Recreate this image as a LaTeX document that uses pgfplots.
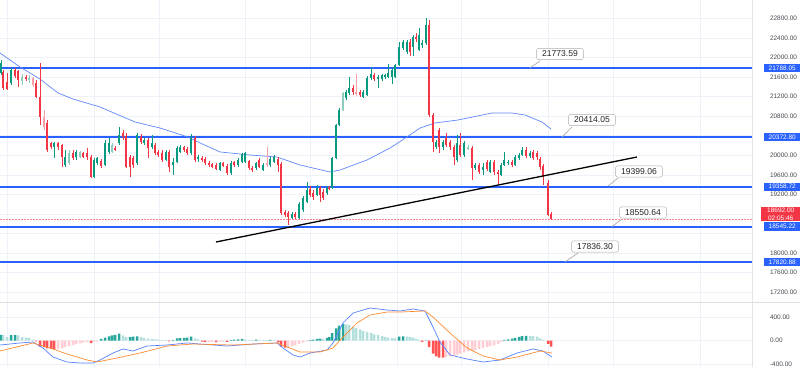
\documentclass[border=0pt]{standalone}
\usepackage{fontspec}
\setmainfont{Liberation Sans}
\usepackage{pgfplots}
\pgfplotsset{compat=1.18}
\usepackage{pgfplotstable}

\definecolor{tvblue}{RGB}{41,98,255}
\definecolor{upc}{RGB}{8,153,129}
\definecolor{dnc}{RGB}{242,54,69}
\definecolor{upl}{RGB}{140,205,192}
\definecolor{dnl}{RGB}{247,160,168}
\definecolor{mabl}{RGB}{95,135,250}
\definecolor{hup}{RGB}{38,166,154}
\definecolor{hupl}{RGB}{178,223,219}
\definecolor{hdn}{RGB}{255,82,82}
\definecolor{hdnl}{RGB}{255,205,210}
\definecolor{sigc}{RGB}{255,140,50}
\definecolor{gridc}{RGB}{238,241,247}
\definecolor{tickc}{RGB}{70,72,80}

% x = bar position, o h l c = open high low close, t = 0 up, 1 down, 2 light up, 3 light down
\pgfplotstableread{
x o h l c t
1 21685 21951 21644 21890 0
3 21706 21747 21337 21378 1
7 21501 21685 21337 21358 1
11 21481 21787 21440 21747 0
15 21747 21787 21583 21624 1
18 21726 21747 21399 21542 1
22 21522 21665 21440 21603 2
26 21603 21644 21522 21562 1
29 21542 21644 21481 21583 2
33 21583 21603 21399 21440 3
36 21481 21542 21174 21194 1
40 21194 21890 20622 20785 1
44 20785 20928 20520 20581 3
47 20663 20724 20070 20111 1
51 20254 20274 20131 20172 1
54 20172 20274 19947 20254 0
58 20254 20274 20111 20172 1
62 20213 20233 19763 19967 1
65 19804 20111 19763 19967 0
69 19845 20111 19804 20049 2
73 20049 20111 19906 19947 1
76 19967 20111 19906 20070 0
80 19967 20090 19947 20070 2
83 20049 20070 19947 19967 1
87 20049 20151 19906 19967 1
91 19967 20008 19538 19558 1
94 19558 19947 19538 19906 0
97 19845 19967 19804 19947 0
101 19886 19926 19742 19783 1
105 19804 20315 19783 20254 0
109 20070 20356 20029 20254 0
112 20070 20254 20049 20213 2
115 20151 20192 20090 20111 1
119 20254 20581 20213 20417 0
123 20458 20520 20315 20376 1
126 20397 20458 19742 19763 1
130 19967 20008 19558 19763 1
133 19947 19988 19742 19804 1
137 19845 20458 19804 20417 0
141 20376 20438 20233 20274 1
144 20254 20356 20213 20315 0
148 20315 20356 19947 20151 1
152 20172 20417 20131 20254 0
155 20213 20254 20008 20049 1
158 20070 20111 19967 20008 1
162 20049 20111 19865 19906 1
166 19906 20111 19886 20070 0
169 20070 20111 19661 19763 1
173 19804 19947 19599 19865 0
177 19865 20192 19845 20151 0
180 20070 20213 20049 20172 0
184 20172 20192 20070 20111 1
187 20131 20172 20008 20049 1
191 20049 20438 20008 20356 0
195 20356 20397 19865 19906 1
198 19926 20008 19865 19967 0
202 19947 19988 19865 19906 1
205 19926 19967 19804 19845 1
209 19845 19886 19763 19804 1
212 19824 19845 19742 19763 1
216 19804 19845 19701 19722 1
220 19701 19865 19681 19845 0
223 19845 19865 19763 19783 1
227 19783 19824 19599 19640 1
231 19640 19886 19599 19845 0
234 19865 19886 19763 19804 1
238 19804 19947 19763 19906 0
242 19865 20049 19845 20029 0
245 19865 20070 19845 20049 0
249 19886 19906 19701 19742 1
252 19742 19783 19661 19701 1
256 19742 19865 19701 19845 0
259 19906 19947 19742 19763 1
263 19701 19845 19681 19804 0
267 19845 20172 19763 19804 3
270 19804 19967 19763 19926 0
274 19865 20008 19845 19967 0
278 19926 19967 19661 19804 1
281 19824 19865 18781 18822 1
285 18843 18883 18740 18781 1
288 18822 18863 18577 18740 1
292 18720 18843 18699 18802 0
295 18802 18843 18699 18740 1
299 18720 19047 18699 19006 0
303 18883 19170 18843 19129 0
307 19047 19456 19027 19292 0
310 19313 19374 19149 19190 1
313 19231 19292 19088 19149 1
317 19190 19395 19170 19333 0
320 19333 19374 19047 19190 1
323 19252 19313 19088 19129 1
327 19231 19374 19190 19333 0
329 19354 19374 19292 19313 1
332 19333 19967 19313 19947 0
336 19947 20642 19926 20622 0
339 20622 20969 20601 20928 0
343 20928 21297 20908 21276 2
346 21174 21337 21133 21297 0
349 21276 21603 21235 21378 0
353 21378 21440 21235 21297 1
356 21297 21665 21215 21256 3
360 21297 21337 21194 21235 1
363 21194 21337 21174 21297 0
367 21235 21624 21215 21583 0
371 21583 21808 21542 21665 0
374 21644 21685 21522 21562 1
378 21562 21644 21378 21603 0
382 21562 21665 21522 21644 0
385 21603 21665 21562 21644 0
388 21603 21869 21583 21685 0
392 21603 21787 21460 21747 0
395 21603 21869 21583 21849 0
399 21849 22319 21828 22217 0
403 22196 22360 22155 22319 0
407 22115 22360 22074 22319 0
410 22319 22380 22033 22115 1
413 22217 22462 22033 22421 0
416 22421 22503 22319 22380 1
419 22155 22605 22135 22462 0
422 22258 22360 22196 22299 0
426 22299 22810 22258 22667 0
429 22667 22769 20785 20826 1
433 20826 20867 20070 20274 1
436 20172 20315 20131 20274 0
439 20520 20560 20049 20172 1
443 20172 20315 20111 20274 0
446 20356 20458 20172 20213 1
450 20274 20315 20111 20172 1
454 20172 20213 19804 19967 1
457 19906 20417 19865 20254 0
460 20213 20458 19967 20008 1
464 20008 20295 19967 20254 0
468 20151 20213 20111 20172 2
472 20151 20192 19497 19742 1
475 19742 19845 19701 19804 0
479 19804 19845 19620 19661 1
483 19701 19845 19599 19763 0
487 19865 19906 19681 19722 1
490 19661 19906 19640 19865 0
494 19865 19906 19599 19661 1
498 19661 19701 19395 19620 1
501 19599 19845 19579 19804 0
504 19804 20070 19783 19906 0
508 19845 19906 19804 19865 0
512 19865 19906 19763 19804 1
515 19804 20008 19783 19967 0
519 19947 20049 19906 20008 0
522 20008 20172 19988 20111 0
526 20111 20172 19947 19988 1
530 19988 20090 19947 20049 0
533 20070 20111 19906 19947 1
537 20049 20090 19906 19967 1
540 19926 19967 19701 19763 1
543 19783 19824 19395 19558 1
548 19436 19497 18761 18781 1
551 18802 18843 18679 18692 1
}\candles

% MACD histogram: x value type (0 rising +, 1 falling +, 2 falling -, 3 rising -)
\pgfplotstableread{
x v t
1 100 0
3 95 1
7 60 1
11 95 0
15 95 0
18 90 1
22 60 1
26 55 1
29 50 1
33 20 1
36 -10 2
40 -100 2
44 -110 2
47 -130 2
51 -140 2
54 -150 2
58 -145 3
62 -130 3
65 -110 3
69 -90 3
73 -75 3
76 -60 3
80 -45 3
83 -35 3
87 -25 3
91 -40 2
94 -15 3
97 -10 3
101 30 0
105 55 0
109 75 0
112 90 0
115 100 0
119 120 0
123 90 1
126 60 1
130 60 0
133 70 0
137 75 0
141 60 1
144 45 1
148 35 1
152 30 1
155 25 1
158 20 1
162 15 1
166 10 1
169 -10 2
173 10 0
177 40 0
180 45 0
184 50 0
187 55 0
191 70 0
195 40 1
198 25 1
202 -15 2
205 -25 2
209 -25 3
212 -20 3
216 -25 2
220 -15 3
223 -15 3
227 -20 2
231 10 0
234 20 0
238 25 0
242 30 0
245 20 1
249 10 1
252 15 1
256 20 0
259 15 1
263 10 1
267 10 1
270 15 0
274 15 1
278 -30 2
281 -100 2
285 -120 2
288 -110 3
292 -95 3
295 -75 3
299 -55 3
303 -35 3
307 -15 3
310 10 0
313 20 0
317 30 0
320 35 0
323 30 1
327 50 0
329 60 0
332 130 0
336 210 0
339 260 0
343 290 0
346 280 1
349 270 1
353 240 1
356 220 1
360 195 1
363 170 1
367 150 1
371 135 1
374 110 1
378 95 1
382 80 1
385 65 1
388 55 1
392 45 1
395 40 1
399 70 0
403 75 0
407 70 1
410 60 1
413 55 1
416 35 1
419 20 1
422 -20 2
426 5 0
429 -110 2
433 -220 2
436 -270 2
439 -290 2
443 -290 2
446 -280 3
450 -270 3
454 -260 3
457 -240 3
460 -220 3
464 -200 3
468 -185 3
472 -175 3
475 -160 3
479 -140 3
483 -125 3
487 -110 3
490 -95 3
494 -80 3
498 -60 3
501 -20 3
504 15 0
508 25 0
512 35 0
515 50 0
519 65 0
522 80 0
526 85 0
530 85 1
533 80 1
537 70 1
540 40 1
543 15 1
548 -55 2
551 -100 2
}\hist

\pgfplotsset{
  wick/.style 2 args={draw=none, mark=none, forget plot,
    restrict expr to domain={\thisrow{t}}{#1},
    /pgfplots/error bars/y dir=both, /pgfplots/error bars/y explicit,
    /pgfplots/error bars/error mark=none,
    /pgfplots/error bars/error bar style={draw=#2, line width=0.8bp}},
  cbody/.style 2 args={draw=none, mark=none, forget plot,
    restrict expr to domain={\thisrow{t}}{#1},
    /pgfplots/error bars/y dir=both, /pgfplots/error bars/y explicit,
    /pgfplots/error bars/error mark=none,
    /pgfplots/error bars/error bar style={draw=#2, line width=2.6bp}},
  hbar/.style 2 args={ybar, bar width=2.5bp, bar shift=0pt, fill=#2, draw=none, forget plot,
    restrict expr to domain={\thisrow{t}}{#1}},
  tvaxis/.style={scale only axis, width=752bp, xmin=0, xmax=752,
    axis line style={draw=none}, tick style={draw=none},
    xtick={7,94,159,245,310,397,461,548,613,700}, xticklabels={},
    xmajorgrids, ymajorgrids, grid style={gridc, line width=0.7bp},
    scaled y ticks=false, scaled x ticks=false,
    yticklabel pos=right,
    yticklabel style={anchor=west, xshift=14.5bp, text=tickc,
      font=\fontsize{6.5}{7.5}\selectfont,
      /pgf/number format/fixed, /pgf/number format/fixed zerofill,
      /pgf/number format/precision=2, /pgf/number format/1000 sep={},
      /pgf/number format/assume math mode=true},
    clip mode=individual}
}
\tikzset{
  rbox/.style={fill=tvblue, text=white, font=\fontsize{6.5}{7.5}\selectfont,
    anchor=west, inner sep=0pt, minimum width=36bp, minimum height=8.5bp},
  callout/.style={draw=gray!65, fill=white, rounded corners=2bp, inner xsep=5.5bp,
    inner ysep=2.6bp, font=\fontsize{8.6}{9.5}\selectfont, text=black!85},
  tail/.style={draw=gray!65, line width=0.7bp}
}

\begin{document}
\begin{tikzpicture}
\path[use as bounding box] (0,0) rectangle (800bp,367bp);

\begin{axis}[tvaxis, at={(0,65bp)}, anchor=south west, height=302bp,
  ymin=17002, ymax=23178,
  ytick={17200,17600,18000,19200,19600,20000,20800,21200,21600,22000,22400,22800},
  extra y ticks={18400,18800,20400}, extra y tick labels={},
  extra y tick style={grid=major}]

% horizontal levels
\addplot[tvblue, line width=2bp, forget plot] coordinates {(0,21788.05) (752,21788.05)};
\addplot[tvblue, line width=2bp, forget plot] coordinates {(0,20372.80) (752,20372.80)};
\addplot[tvblue, line width=2bp, forget plot] coordinates {(0,19358.72) (752,19358.72)};
\addplot[tvblue, line width=2bp, forget plot] coordinates {(0,18545.22) (752,18545.22)};
\addplot[tvblue, line width=2bp, forget plot] coordinates {(0,17820.88) (752,17820.88)};
% last price
\addplot[dnc!60, densely dotted, line width=0.5bp, forget plot] coordinates {(0,18692) (752,18692)};

% moving average
\addplot[mabl, line width=0.7bp, forget plot] coordinates {
(0,22094) (20,21808) (40,21562) (58,21276) (73,21153) (100,20990) (135,20683)
(160,20560) (188,20376) (200,20254) (220,20070) (250,20008) (277,19967)
(300,19804) (330,19661) (340,19701) (367,19906) (390,20151) (407,20376)
(420,20560) (435,20663) (458,20724) (492,20867) (512,20867) (525,20826)
(542,20683) (551,20540)};

% candles: wicks
\addplot[wick={-0.5:0.5}{upc}] table[x=x, y expr={(\thisrow{h}+\thisrow{l})/2}, y error expr={(\thisrow{h}-\thisrow{l})/2}] {\candles};
\addplot[wick={0.5:1.5}{dnc}] table[x=x, y expr={(\thisrow{h}+\thisrow{l})/2}, y error expr={(\thisrow{h}-\thisrow{l})/2}] {\candles};
\addplot[wick={1.5:2.5}{upl}] table[x=x, y expr={(\thisrow{h}+\thisrow{l})/2}, y error expr={(\thisrow{h}-\thisrow{l})/2}] {\candles};
\addplot[wick={2.5:3.5}{dnl}] table[x=x, y expr={(\thisrow{h}+\thisrow{l})/2}, y error expr={(\thisrow{h}-\thisrow{l})/2}] {\candles};
% candles: bodies
\addplot[cbody={-0.5:0.5}{upc}] table[x=x, y expr={(\thisrow{o}+\thisrow{c})/2}, y error expr={abs(\thisrow{o}-\thisrow{c})/2}] {\candles};
\addplot[cbody={0.5:1.5}{dnc}] table[x=x, y expr={(\thisrow{o}+\thisrow{c})/2}, y error expr={abs(\thisrow{o}-\thisrow{c})/2}] {\candles};
\addplot[cbody={1.5:2.5}{upl}] table[x=x, y expr={(\thisrow{o}+\thisrow{c})/2}, y error expr={abs(\thisrow{o}-\thisrow{c})/2}] {\candles};
\addplot[cbody={2.5:3.5}{dnl}] table[x=x, y expr={(\thisrow{o}+\thisrow{c})/2}, y error expr={abs(\thisrow{o}-\thisrow{c})/2}] {\candles};

% trend line
\addplot[black, line width=1.3bp, forget plot] coordinates {(216,18229) (637,19967)};

% callouts
\draw[tail] (axis cs:540,21931) -- (axis cs:530,21788);
\node[callout] at (axis cs:560,22074) {21773.59};
\draw[tail] (axis cs:572,20581) -- (axis cs:562,20376);
\node[callout] at (axis cs:592,20724) {20414.05};
\draw[tail] (axis cs:618,19538) -- (axis cs:608,19374);
\node[callout] at (axis cs:639,19671) {19399.06};
\draw[tail] (axis cs:622,18699) -- (axis cs:612,18545);
\node[callout] at (axis cs:643,18832) {18550.64};
\draw[tail] (axis cs:578,18004) -- (axis cs:565,17821);
\node[callout] at (axis cs:595,18137) {17836.30};

% price scale boxes
\node[rbox] at (axis cs:764,21788.05) {21788.05};
\node[rbox] at (axis cs:764,20372.80) {20372.80};
\node[rbox] at (axis cs:764,19358.72) {19358.72};
\node[rbox] at (axis cs:764,17820.88) {17820.88};
\node[fill=dnc, text=white, font=\fontsize{6.5}{8}\selectfont, align=center,
  anchor=west, inner sep=1bp, minimum width=39bp] at (axis cs:761,18802) {18692.00\\02:05:46};
\node[rbox] at (axis cs:764,18545.22) {18545.22};
\end{axis}

\begin{axis}[tvaxis, at={(0,0)}, anchor=south west, height=65bp,
  ymin=-451, ymax=664, ytick={-400,0,400}]
\addplot[hbar={-0.5:0.5}{hup}] table[x=x, y=v] {\hist};
\addplot[hbar={0.5:1.5}{hupl}] table[x=x, y=v] {\hist};
\addplot[hbar={1.5:2.5}{hdn}] table[x=x, y=v] {\hist};
\addplot[hbar={2.5:3.5}{hdnl}] table[x=x, y=v] {\hist};
% MACD line
\addplot[tvblue!80, line width=0.7bp, forget plot] coordinates {
(0,-74) (20,-39) (33,-22) (43,-125) (53,-280) (67,-365) (80,-382) (93,-382)
(100,-331) (113,-211) (123,-142) (133,-177) (147,-91) (167,-74) (187,-39)
(200,-57) (227,-91) (253,-57) (277,-39) (283,-125) (293,-245) (300,-280)
(310,-211) (327,-160) (333,-39) (343,304) (353,475) (370,561) (387,527)
(400,510) (413,544) (425,510) (433,235) (440,-22) (450,-245) (467,-314)
(483,-365) (500,-331) (517,-211) (533,-142) (543,-177) (552,-280)};
% signal line
\addplot[sigc, line width=0.7bp, forget plot] coordinates {
(0,-177) (33,-39) (50,-125) (67,-228) (87,-331) (97,-365) (117,-297)
(140,-211) (167,-91) (193,-57) (233,-74) (277,-39) (290,-125) (300,-194)
(320,-194) (333,-125) (343,63) (357,304) (370,441) (387,492) (400,492)
(425,510) (433,406) (450,132) (467,-125) (483,-262) (500,-331) (517,-280)
(540,-177) (552,-211)};
\end{axis}

\draw[gray!25, line width=0.8bp] (0,65bp) -- (800bp,65bp);
\draw[gray!20, line width=0.6bp] (752bp,0) -- (752bp,367bp);
\end{tikzpicture}
\end{document}
